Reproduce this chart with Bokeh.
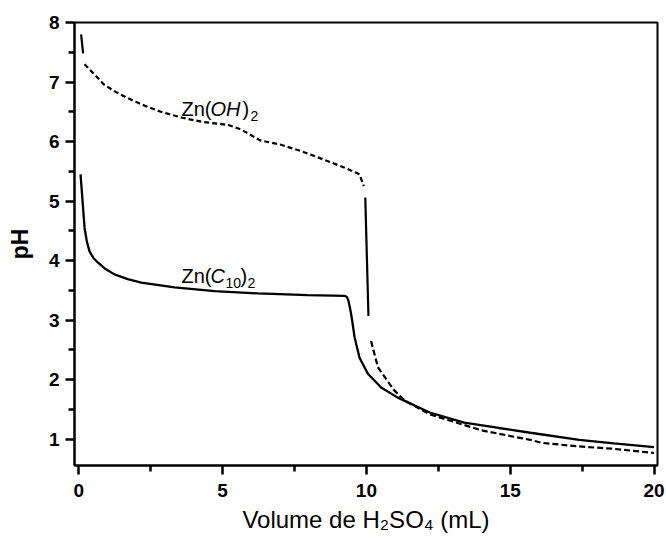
from bokeh.plotting import figure
from bokeh.models import FixedTicker, Range1d
from bokeh.core.properties import value
from bokeh.embed import file_html
from bokeh.resources import INLINE

# ---- data ----
c10_x = [0.06, 0.13, 0.2, 0.28, 0.37, 0.5, 0.66, 0.9, 1.24, 1.7, 2.17, 3.33, 4.72, 6.22,
         7.96, 9.24, 9.32, 9.38, 9.47, 9.59, 9.76, 10.05, 10.51, 11.09, 12.2, 13.4, 14.6,
         15.7, 17.4, 18.6, 20.0]
c10_y = [5.45, 5.0, 4.55, 4.32, 4.16, 4.05, 3.97, 3.87, 3.77, 3.69, 3.63, 3.55, 3.49, 3.45,
         3.42, 3.41, 3.39, 3.32, 3.10, 2.71, 2.37, 2.10, 1.87, 1.70, 1.45, 1.28, 1.19,
         1.11, 0.99, 0.93, 0.87]
oh_x = [0.08, 0.15, 0.2, 0.5, 0.87, 1.3, 1.7, 2.3, 2.85, 3.6, 4.3, 5.2, 5.65, 5.95, 6.3,
        7.0, 7.73, 8.5, 9.2, 9.76, 9.91, 9.96, 10.07, 10.16, 10.4, 10.95, 11.33, 12.2, 13.4,
        14.0, 15.7, 16.1, 17.4, 18.6, 20.0]
oh_y = [7.8, 7.48, 7.3, 7.15, 6.96, 6.83, 6.73, 6.6, 6.5, 6.4, 6.33, 6.28, 6.2, 6.12, 6.02,
        5.95, 5.84, 5.70, 5.57, 5.45, 5.25, 5.06, 3.07, 2.65, 2.21, 1.83, 1.65, 1.42, 1.24,
        1.15, 0.99, 0.94, 0.88, 0.84, 0.77]

x_ticks = [0, 5, 10, 15, 20]
x_minor = [2.5, 7.5, 12.5, 17.5]
y_ticks = [1, 2, 3, 4, 5, 6, 7, 8]
y_minor = [1.5, 2.5, 3.5, 4.5, 5.5, 6.5, 7.5]

x_label = "Volume de H\u2082SO\u2084 (mL)"
y_label = "pH"

FONT = "Liberation Sans"

p = figure(width=666, height=550, output_backend="svg", toolbar_location=None,
           x_range=Range1d(-0.15, 20.12), y_range=Range1d(0.56, 8.0),
           min_border_left=74, min_border_right=9, min_border_top=22, min_border_bottom=85)
p.background_fill_color = "white"
p.border_fill_color = "white"
p.outline_line_color = "black"
p.outline_line_width = 2
p.xgrid.visible = False
p.ygrid.visible = False

p.xaxis.ticker = FixedTicker(ticks=x_ticks, minor_ticks=x_minor)
p.yaxis.ticker = FixedTicker(ticks=y_ticks, minor_ticks=y_minor)

p.axis.axis_line_width = 2
p.axis.axis_line_color = "black"
p.axis.major_tick_line_width = 2.5
p.axis.minor_tick_line_width = 2.5
p.axis.major_tick_line_color = "black"
p.axis.minor_tick_line_color = "black"
p.axis.major_tick_in = 0
p.axis.minor_tick_in = 0
p.axis.major_tick_out = 9
p.axis.minor_tick_out = 6
p.axis.major_label_text_font = FONT
p.axis.major_label_text_font_style = "bold"
p.axis.major_label_text_font_size = "19px"
p.axis.major_label_text_color = "black"
p.axis.axis_label_text_font = FONT
p.axis.axis_label_text_color = "black"

p.xaxis.axis_label = x_label
p.xaxis.axis_label_text_font_size = "24px"
p.xaxis.axis_label_text_font_style = "normal"
p.xaxis.major_label_standoff = 9
p.xaxis.axis_label_standoff = 6
p.yaxis.axis_label = y_label
p.yaxis.axis_label_text_font_size = "23px"
p.yaxis.axis_label_text_font_style = "bold"
p.yaxis.major_label_standoff = 6
p.yaxis.axis_label_standoff = 13

# solid curve
p.line(c10_x, c10_y, line_color="black", line_width=2.3)

# dashed curve: steep pieces appear solid in the original
p.line(oh_x[0:2], oh_y[0:2], line_color="black", line_width=2.2)
p.line(oh_x[2:21], oh_y[2:21], line_color="black", line_width=2.2, line_dash="5 3")
p.line(oh_x[21:23], oh_y[21:23], line_color="black", line_width=2.2)
p.line(oh_x[23:], oh_y[23:], line_color="black", line_width=2.2, line_dash="6 3")

# curve labels built from pieces (italic / subscript)
def piece(x, y, txt, dx, dy=0, size="20px", style="normal"):
    p.text(x=[x], y=[y], text=[txt], x_offset=dx, y_offset=dy,
           text_font=value(FONT), text_font_size=size, text_font_style=style,
           text_color="black", text_align="left", text_baseline="alphabetic")

ax0, ay0 = 3.57, 6.54
piece(ax0, ay0, "Zn(", 0)
piece(ax0, ay0, "OH", 29, style="italic")
piece(ax0, ay0, ")", 61)
piece(ax0, ay0, "2", 69, dy=7, size="14px")

bx0, by0 = 3.57, 3.74
piece(bx0, by0, "Zn(", 0)
piece(bx0, by0, "C", 29, style="italic")
piece(bx0, by0, "10", 44, dy=7, size="14px")
piece(bx0, by0, ")", 59)
piece(bx0, by0, "2", 66, dy=7, size="14px")

open("out.html", "w").write(file_html(p, INLINE))
